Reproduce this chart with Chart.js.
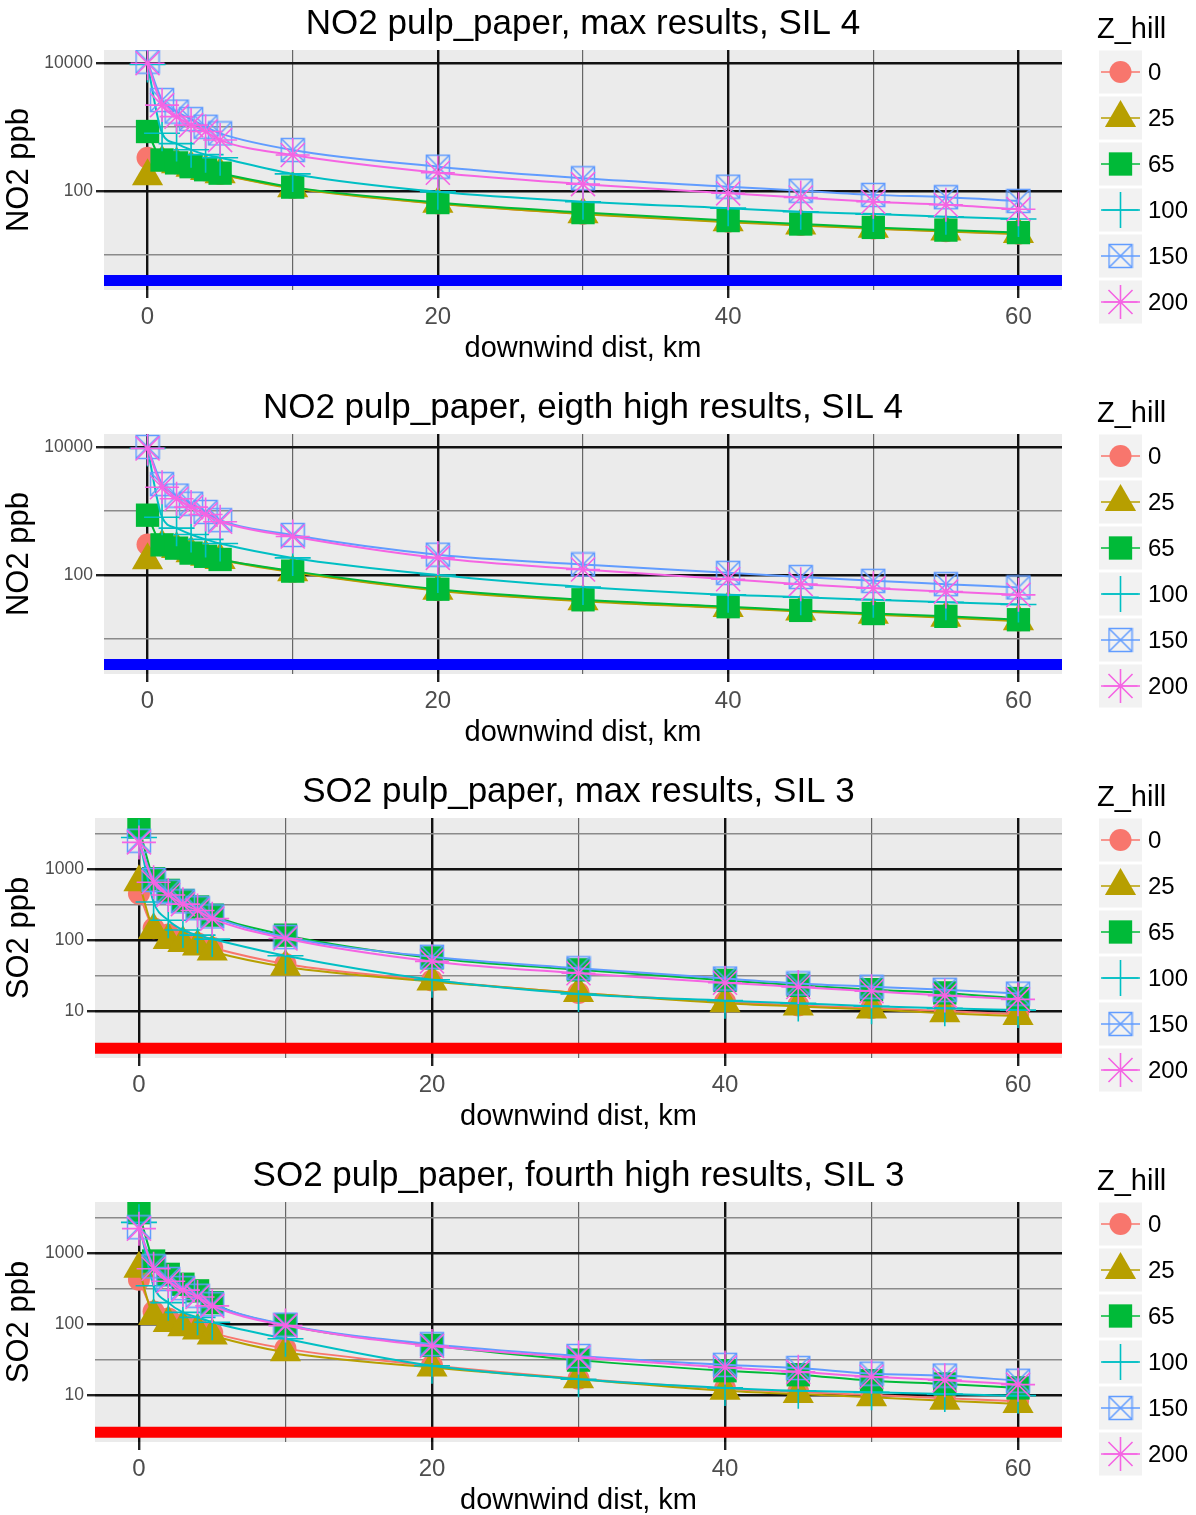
<!DOCTYPE html>
<html>
<head>
<meta charset="utf-8">
<title>pulp_paper dispersion results</title>
<script src="https://cdn.jsdelivr.net/npm/chart.js@4.4.0/dist/chart.umd.min.js"></script>
<style>
  html, body { margin: 0; padding: 0; background: #fff; overflow: hidden; }
  #wrap { position: relative; width: 1196px; height: 1515px; }
  #wrap canvas { position: absolute; left: 0; }
</style>
</head>
<body>
<div id="wrap">
  <canvas id="no2-max" width="1196" height="384" style="top:0px"></canvas>
  <canvas id="no2-8th" width="1196" height="384" style="top:384px"></canvas>
  <canvas id="so2-max" width="1196" height="384" style="top:768px"></canvas>
  <canvas id="so2-4th" width="1196" height="384" style="top:1152px"></canvas>
</div>
<script>
// === Данные ===
const distances = [0, 1, 2, 3, 4, 5, 10, 20, 30, 40, 45, 50, 55, 60];
const zHill = [0, 25, 65, 100, 150, 200];

const distTickLabels = [0, 20, 40, 60];
const distMinorTicks = [10, 30, 50];
const no2TickLabels = [100, 10000];
const no2MinorTicks = [10, 1000];
const so2TickLabels = [10, 100, 1000];
const so2MinorTicks = [3.162, 31.62, 316.2, 3162];

// NO2, max
const no2MaxZ0 = [330, 300, 270, 235, 210, 185, 112, 64, 44, 33, 29.5, 26, 23.5, 21.5];
const no2MaxZ25 = [170, 280, 262, 230, 205, 182, 110, 63, 43.5, 32.5, 29, 25.8, 23.2, 21.2];
const no2MaxZ65 = [850, 305, 275, 240, 215, 190, 115, 66, 46, 34.5, 30.5, 27, 24.5, 22.4];
const no2MaxZ100 = [9500, 800, 550, 440, 370, 330, 185, 97, 68, 54, 47.5, 43.6, 39.7, 36.6];
const no2MaxZ150 = [10500, 2640, 1740, 1330, 1010, 795, 437, 240, 158, 117, 101, 87, 80, 70];
const no2MaxZ200 = [9900, 2200, 1450, 1070, 850, 625, 365, 193, 128, 92, 79, 68, 61, 52];

// NO2, eighth high
const no2EighthZ0 = [300, 290, 260, 220, 196, 175, 112, 58, 40, 31, 27.5, 24.5, 22, 19.5];
const no2EighthZ25 = [170, 280, 255, 218, 193, 172, 110, 57, 39, 30.5, 27, 24, 21.5, 19];
const no2EighthZ65 = [860, 296, 263, 220, 196, 175, 115, 60, 41, 32, 28, 25, 22.6, 20];
const no2EighthZ100 = [9500, 800, 540, 430, 360, 310, 185, 100, 65, 49, 45, 41, 37.5, 34.6];
const no2EighthZ150 = [10000, 2630, 1740, 1300, 965, 720, 422, 208, 146, 108, 93, 81, 72, 64];
const no2EighthZ200 = [9500, 2350, 1550, 1150, 880, 680, 400, 185, 122, 86, 72, 62, 55, 49];

// SO2, max
const so2MaxZ0 = [450, 146, 120, 100, 90, 78, 46, 27, 18, 13.5, 12, 11, 10, 9];
const so2MaxZ25 = [650, 138, 100, 91, 81, 69, 42, 26, 18, 12.9, 11.6, 10.5, 9.3, 8.5];
const so2MaxZ65 = [3900, 730, 500, 360, 292, 224, 117, 56, 38, 27, 23, 20, 18, 15];
const so2MaxZ100 = [2780, 343, 190, 138, 117, 103, 60, 27.5, 17.4, 14, 12.8, 11.7, 10.9, 10.3];
const so2MaxZ150 = [2500, 700, 480, 350, 280, 215, 110, 58, 40, 28.7, 24.5, 22, 19.9, 17.6];
const so2MaxZ200 = [2370, 650, 430, 320, 260, 200, 105, 50, 34, 25, 21.8, 19, 16.5, 14.6];

// SO2, fourth high
const so2FourthZ0 = [420, 150, 120, 100, 88, 75, 45, 26, 17, 12.3, 11, 10, 9, 8.2];
const so2FourthZ25 = [600, 130, 103, 90, 81, 69, 40, 24.5, 16.7, 11.5, 10.3, 9.3, 8.3, 7.5];
const so2FourthZ65 = [3700, 770, 500, 363, 293, 200, 97, 50, 31, 22, 19.3, 15.9, 14.3, 12.6];
const so2FourthZ100 = [2700, 345, 200, 146, 124, 106, 62, 25.8, 16.7, 12.6, 11.5, 10.9, 10.3, 9.8];
const so2FourthZ150 = [2300, 650, 430, 320, 250, 190, 98, 52, 35.5, 26.6, 24, 20, 18.8, 15.9];
const so2FourthZ200 = [2200, 600, 400, 300, 240, 180, 95, 49, 33.7, 24.4, 21.2, 18.1, 16.2, 14];

// SIL
const no2Sil = 4;
const so2Sil = 3;

// === Стиль ===
const FONT = '"Liberation Sans", Arial, sans-serif';
Chart.defaults.font.family = FONT;

const zColors = ["#F8766D", "#B79F00", "#00BA38", "#00BFC4", "#619CFF", "#F564E3"];

// квадрат с крестом (shape 7 в ggplot)
function squareCross(color) {
  const c = document.createElement("canvas");
  c.width = 26;
  c.height = 26;
  const g = c.getContext("2d");
  g.strokeStyle = color;
  g.lineWidth = 1.5;
  g.strokeRect(1.5, 1.5, 23, 23);
  g.beginPath();
  g.moveTo(1.5, 1.5); g.lineTo(24.5, 24.5);
  g.moveTo(24.5, 1.5); g.lineTo(1.5, 24.5);
  g.stroke();
  return c;
}

const markerStyles = ["circle", "triangle", "rect", "cross", squareCross(zColors[4]), "star"];
const markerRadius = [11, 18, 16.5, 18, 13, 17];
const markerBorder = [0, 0, 0, 1.6, 0, 1.6];

// === Легенда Z_hill ===
const zHillLegend = {
  id: "zHillLegend",
  afterDraw(chart) {
    const ctx = chart.ctx;
    const left = chart.chartArea.right;
    ctx.save();
    ctx.textAlign = "left";
    ctx.textBaseline = "middle";
    ctx.fillStyle = "#000";
    ctx.font = "29px " + FONT;
    ctx.fillText("Z_hill", left + 35, 30);
    zHill.forEach((z, i) => {
      const cy = 72 + i * 46;
      const cx = left + 58.5;
      ctx.fillStyle = "#F2F2F2";
      ctx.fillRect(left + 37, cy - 21.5, 43, 43);
      ctx.strokeStyle = zColors[i];
      ctx.fillStyle = zColors[i];
      ctx.lineWidth = 1.6;
      ctx.beginPath();
      ctx.moveTo(left + 39, cy);
      ctx.lineTo(left + 78, cy);
      ctx.stroke();
      ctx.lineWidth = markerBorder[i];
      Chart.helpers.drawPoint(ctx, {
        pointStyle: markerStyles[i], radius: markerRadius[i], rotation: 0, borderWidth: markerBorder[i]
      }, cx, cy);
      ctx.fillStyle = "#000";
      ctx.font = "24px " + FONT;
      ctx.fillText(String(z), left + 86, cy + 1);
    });
    ctx.restore();
  }
};

// === Панель ===
function buildPanel(canvasId, p) {
  const datasets = p.series.map((vals, i) => ({
    label: String(zHill[i]),
    data: distances.map((d, k) => ({ x: d, y: vals[k] })),
    borderColor: zColors[i],
    backgroundColor: zColors[i],
    borderWidth: 2,
    pointStyle: markerStyles[i],
    pointRadius: markerRadius[i],
    pointBorderWidth: markerBorder[i],
    cubicInterpolationMode: "monotone",
    order: zHill.length - i
  }));
  datasets.push({
    label: "SIL",
    data: [{ x: -3, y: p.sil }, { x: 63, y: p.sil }],
    borderColor: p.silColor,
    borderWidth: 11,
    borderCapStyle: "butt",
    pointRadius: 0,
    order: 99
  });

  const yMajor = p.yTicks;
  const yAll = yMajor.concat(p.yMinor).sort((a, b) => a - b);
  const xAll = distTickLabels.concat(distMinorTicks).sort((a, b) => a - b);
  const isMajorX = (v) => distTickLabels.includes(v);
  const isMajorY = (v) => yMajor.includes(v);

  new Chart(document.getElementById(canvasId), {
    type: "line",
    data: { datasets },
    plugins: [zHillLegend],
    options: {
      responsive: false,
      animation: false,
      devicePixelRatio: 1,
      layout: { padding: { left: 0, right: 134, top: 0, bottom: 0 } },
      plugins: {
        legend: { display: false },
        tooltip: { enabled: false },
        title: {
          display: true,
          text: p.title,
          fullSize: false,
          color: "#000",
          font: { size: 35, weight: "normal" },
          padding: { top: 3, bottom: 5 }
        }
      },
      scales: {
        x: {
          type: "linear",
          min: -3,
          max: 63,
          afterFit: (s) => { s.height = 94; },
          afterBuildTicks: (s) => { s.ticks = xAll.map((v) => ({ value: v })); },
          ticks: {
            autoSkip: false,
            maxRotation: 0,
            padding: 5,
            color: "#4D4D4D",
            font: { size: 24 },
            callback: (v) => (isMajorX(v) ? String(v) : "")
          },
          grid: {
            color: (c) => (isMajorX(c.tick.value) ? "#111" : "#666"),
            lineWidth: (c) => (isMajorX(c.tick.value) ? 2.4 : 1.2),
            tickColor: (c) => (isMajorX(c.tick.value) ? "#222" : "rgba(0,0,0,0)"),
            tickLength: 8
          },
          border: { display: false },
          title: {
            display: true,
            text: "downwind dist, km",
            color: "#000",
            font: { size: 29 },
            padding: { top: 0, bottom: 18 }
          }
        },
        y: {
          type: "logarithmic",
          min: p.yMin,
          max: p.yMax,
          afterFit: (s) => { s.width = p.axisWidth; },
          afterBuildTicks: (s) => { s.ticks = yAll.map((v) => ({ value: v })); },
          ticks: {
            autoSkip: false,
            padding: 3,
            color: "#4D4D4D",
            font: { size: 17.5 },
            callback: (v) => (isMajorY(v) ? String(v) : "")
          },
          grid: {
            color: (c) => (isMajorY(c.tick.value) ? "#111" : "#8A8A8A"),
            lineWidth: (c) => (isMajorY(c.tick.value) ? 2.4 : 1.6),
            tickColor: (c) => (isMajorY(c.tick.value) ? "#222" : "rgba(0,0,0,0)"),
            tickLength: 8
          },
          border: { display: false },
          title: {
            display: true,
            text: p.yTitle,
            color: "#000",
            font: { size: 31 },
            padding: { top: 1, bottom: 0 }
          }
        }
      }
    }
  });
}

// фон панели
Chart.register({
  id: "panelBackground",
  beforeDraw(chart) {
    const a = chart.chartArea;
    chart.ctx.save();
    chart.ctx.fillStyle = "#EBEBEB";
    chart.ctx.fillRect(a.left, a.top, a.right - a.left, a.bottom - a.top);
    chart.ctx.restore();
  }
});

// === Запуск ===
buildPanel("no2-max", {
  title: "NO2 pulp_paper, max results, SIL 4",
  yTitle: "NO2 ppb",
  series: [no2MaxZ0, no2MaxZ25, no2MaxZ65, no2MaxZ100, no2MaxZ150, no2MaxZ200],
  sil: no2Sil, silColor: "#0000FF",
  yTicks: no2TickLabels, yMinor: no2MinorTicks,
  yMin: 2.84, yMax: 15960, axisWidth: 104
});
buildPanel("no2-8th", {
  title: "NO2 pulp_paper, eigth high results, SIL 4",
  yTitle: "NO2 ppb",
  series: [no2EighthZ0, no2EighthZ25, no2EighthZ65, no2EighthZ100, no2EighthZ150, no2EighthZ200],
  sil: no2Sil, silColor: "#0000FF",
  yTicks: no2TickLabels, yMinor: no2MinorTicks,
  yMin: 2.84, yMax: 15960, axisWidth: 104
});
buildPanel("so2-max", {
  title: "SO2 pulp_paper, max results, SIL 3",
  yTitle: "SO2 ppb",
  series: [so2MaxZ0, so2MaxZ25, so2MaxZ65, so2MaxZ100, so2MaxZ150, so2MaxZ200],
  sil: so2Sil, silColor: "#FF0000",
  yTicks: so2TickLabels, yMinor: so2MinorTicks,
  yMin: 2.18, yMax: 5224, axisWidth: 95
});
buildPanel("so2-4th", {
  title: "SO2 pulp_paper, fourth high results, SIL 3",
  yTitle: "SO2 ppb",
  series: [so2FourthZ0, so2FourthZ25, so2FourthZ65, so2FourthZ100, so2FourthZ150, so2FourthZ200],
  sil: so2Sil, silColor: "#FF0000",
  yTicks: so2TickLabels, yMinor: so2MinorTicks,
  yMin: 2.18, yMax: 5224, axisWidth: 95
});
</script>
</body>
</html>
